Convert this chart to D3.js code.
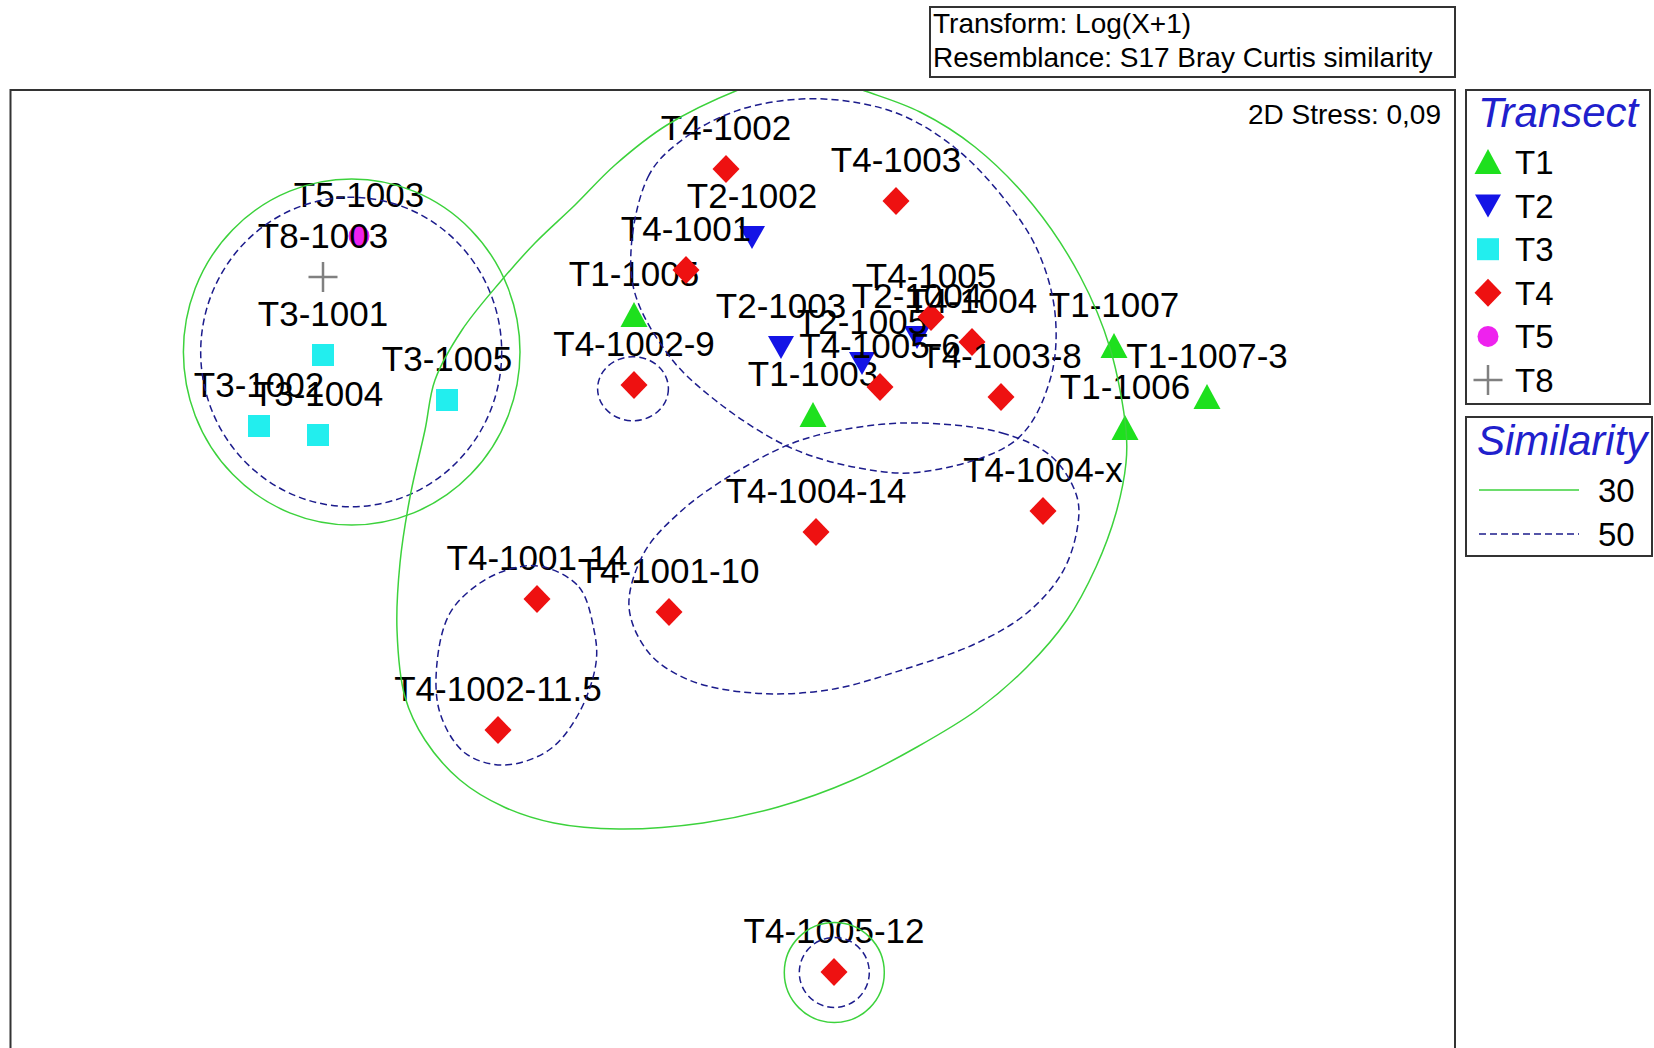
<!DOCTYPE html>
<html>
<head>
<meta charset="utf-8">
<script src="https://cdnjs.cloudflare.com/ajax/libs/d3/7.8.5/d3.min.js"></script>
<style>
  body { margin: 0; background: #fff; }
  text { font-family: "Liberation Sans", Arial, sans-serif; }
</style>
</head>
<body>
<div id="chart"></div>
<script>
// nMDS ordination, sample scores (arbitrary MDS units, y up)
var sampleNames = ["T1-1005", "T1-1003", "T1-1007", "T1-1007-3", "T1-1006",
  "T2-1002", "T2-1003", "T2-1004", "T2-1005",
  "T3-1001", "T3-1002", "T3-1004", "T3-1005",
  "T4-1002", "T4-1003", "T4-1001", "T4-1005", "T4-1004", "T4-1005-6", "T4-1003-8",
  "T4-1002-9", "T4-1004-14", "T4-1004-x", "T4-1001-14", "T4-1001-10", "T4-1002-11.5", "T4-1005-12",
  "T5-1003", "T8-1003"];
var sampleGroups = ["T1", "T1", "T1", "T1", "T1",
  "T2", "T2", "T2", "T2",
  "T3", "T3", "T3", "T3",
  "T4", "T4", "T4", "T4", "T4", "T4", "T4", "T4", "T4", "T4", "T4", "T4", "T4", "T4",
  "T5", "T8"];
var mdsX = [6.24, 8.03, 11.04, 11.97, 11.15,
  7.42, 7.71, 9.07, 8.52,
  3.13, 2.49, 3.08, 4.37,
  7.16, 8.86, 6.76, 9.21, 9.62, 8.70, 9.91, 6.24, 8.06, 10.33, 5.27, 6.59, 4.88, 8.24,
  3.49, 3.13];
var mdsY = [7.35, 6.35, 7.04, 6.53, 6.22,
  8.13, 7.03, 7.13, 6.87,
  6.95, 6.24, 6.15, 6.50,
  8.81, 8.49, 7.80, 7.33, 7.08, 6.63, 6.53, 6.65, 5.18, 5.39, 4.51, 4.38, 3.20, 0.78,
  8.14, 7.73];

// legend
var transects = ["T1", "T2", "T3", "T4", "T5", "T8"];
var simLevels = [30, 50];

// cluster overlays: simple ones as ellipses [cx, cy, rx, ry, level]
var simEllipses = [
  [3.417, 6.98, 1.683, 1.73, 30],
  [3.412, 6.98, 1.505, 1.547, 50],
  [6.23, 6.613, 0.354, 0.32, 50],
  [8.243, 0.775, 0.50, 0.50, 30],
  [8.243, 0.775, 0.35, 0.35, 50]
];
// the rest as closed outlines
var sim30Big = [[7.28, 9.60], [7.90, 9.80], [8.55, 9.59], [9.10, 9.38], [9.65, 9.03], [10.23, 8.45],
  [10.70, 7.74], [11.00, 7.02], [11.16, 6.20], [11.16, 5.87], [11.06, 5.37], [10.86, 4.83],
  [10.57, 4.30], [10.17, 3.83], [9.67, 3.40], [9.07, 3.03], [8.43, 2.70], [7.68, 2.43],
  [6.93, 2.27], [6.09, 2.21], [5.44, 2.27], [4.94, 2.43], [4.50, 2.70], [4.15, 3.10],
  [3.95, 3.53], [3.87, 4.20], [3.90, 4.87], [4.00, 5.53], [4.15, 6.20], [4.25, 6.70],
  [4.52, 7.20], [4.91, 7.69], [5.25, 8.07], [5.65, 8.45], [6.05, 8.85], [6.57, 9.25]];
var sim50Upper = [[6.22, 7.70], [6.38, 8.73], [6.76, 9.13], [7.29, 9.40], [7.91, 9.51], [8.49, 9.47],
  [8.96, 9.33], [9.44, 9.03], [9.87, 8.60], [10.26, 8.03], [10.45, 7.37], [10.40, 6.70],
  [10.06, 6.10], [9.11, 5.78], [8.49, 5.82], [7.79, 6.03], [7.05, 6.50], [6.57, 6.97]];
var sim50Lower = [[9.07, 6.27], [9.92, 6.17], [10.42, 5.93], [10.67, 5.53], [10.67, 5.20],
  [10.52, 4.77], [10.17, 4.37], [9.67, 4.07], [8.92, 3.80], [8.18, 3.60], [7.43, 3.57],
  [6.79, 3.70], [6.39, 3.97], [6.19, 4.43], [6.34, 4.97], [6.69, 5.37], [7.18, 5.73],
  [7.83, 6.07], [8.43, 6.22]];
var sim50Left = [[5.34, 4.83], [5.69, 4.63], [5.84, 4.20], [5.86, 3.87], [5.69, 3.37], [5.39, 3.00],
  [4.94, 2.85], [4.55, 2.97], [4.30, 3.37], [4.27, 3.87], [4.40, 4.37], [4.70, 4.67], [5.04, 4.82]];

var W = 1654, H = 1048;
var plot = {left: 10.5, top: 90, right: 1455, bottom: 1100};

var colors = {T1: "#1ee01e", T2: "#1414e6", T3: "#22eeee", T4: "#ee1111", T5: "#ee22ee", T8: "#808080"};
var simStyle = {
  30: {stroke: "#3cd23c", dash: null},
  50: {stroke: "#1c1c8c", dash: "7,4"}
};

var x = d3.scaleLinear().domain([0, 14.4]).range([10, 1450]);
var y = d3.scaleLinear().domain([0, 9.6]).range([1050, 90]);

var svg = d3.select("#chart").append("svg")
  .attr("width", W)
  .attr("height", H);

svg.append("rect").attr("width", W).attr("height", H).attr("fill", "#fff");

svg.append("clipPath").attr("id", "plotClip")
  .append("rect")
  .attr("x", plot.left).attr("y", plot.top)
  .attr("width", plot.right - plot.left).attr("height", plot.bottom - plot.top);

function symbolPath(g) {
  if (g == "T1") return "M0,-13L13.5,12L-13.5,12Z";
  if (g == "T2") return "M-13,-11L13,-11L0,12Z";
  if (g == "T3") return "M-11,-11h22v22h-22Z";
  if (g == "T4") return "M0,-14L13.5,0L0,14L-13.5,0Z";
  if (g == "T5") return "M-10.5,0A10.5,10.5 0 1,0 10.5,0A10.5,10.5 0 1,0 -10.5,0Z";
  return "M-14.5,0H14.5M0,-15V15";
}

function drawSymbol(sel, g) {
  var p = sel.append("path").attr("d", symbolPath(g));
  if (g == "T8") {
    p.attr("fill", "none").attr("stroke", colors[g]).attr("stroke-width", 2.5);
  } else {
    p.attr("fill", colors[g]);
  }
  return p;
}

// samples: symbol then label, in sample order
var samples = sampleNames.map(function(n, i) {
  return {name: n, group: sampleGroups[i], x: mdsX[i], y: mdsY[i]};
});

var pts = svg.append("g");
samples.forEach(function(d) {
  var g = pts.append("g")
    .attr("transform", "translate(" + x(d.x) + "," + y(d.y) + ")");
  drawSymbol(g, d.group);
  g.append("text")
    .attr("y", -29)
    .attr("text-anchor", "middle")
    .style("font-size", "35px")
    .attr("fill", "#000")
    .text(d.name);
});

// similarity contours on top
var cont = svg.append("g").attr("clip-path", "url(#plotClip)");
simEllipses.forEach(function(e) {
  cont.append("ellipse")
    .attr("cx", x(e[0]))
    .attr("cy", y(e[1]))
    .attr("rx", x(e[0] + e[2]) - x(e[0]))
    .attr("ry", y(e[1]) - y(e[1] + e[3]))
    .attr("fill", "none")
    .attr("stroke", simStyle[e[4]].stroke)
    .attr("stroke-width", 1.5)
    .attr("stroke-dasharray", simStyle[e[4]].dash);
});

var outline = d3.line()
  .x(function(d) { return x(d[0]); })
  .y(function(d) { return y(d[1]); })
  .curve(d3.curveCatmullRomClosed.alpha(0.5));

[[sim30Big, 30], [sim50Upper, 50], [sim50Lower, 50], [sim50Left, 50]].forEach(function(c) {
  cont.append("path")
    .attr("d", outline(c[0]))
    .attr("fill", "none")
    .attr("stroke", simStyle[c[1]].stroke)
    .attr("stroke-width", 1.5)
    .attr("stroke-dasharray", simStyle[c[1]].dash);
});

// plot frame
svg.append("rect")
  .attr("x", plot.left).attr("y", plot.top)
  .attr("width", plot.right - plot.left).attr("height", plot.bottom - plot.top)
  .attr("fill", "none").attr("stroke", "#333").attr("stroke-width", 2);

svg.append("text")
  .attr("x", 1441).attr("y", 124)
  .attr("text-anchor", "end")
  .style("font-size", "28px")
  .text("2D Stress: 0,09");

// transform / resemblance box
svg.append("rect")
  .attr("x", 930).attr("y", 7).attr("width", 525).attr("height", 70)
  .attr("fill", "#fff").attr("stroke", "#333").attr("stroke-width", 2);
svg.append("text").attr("x", 933).attr("y", 33).style("font-size", "28px").text("Transform: Log(X+1)");
svg.append("text").attr("x", 933).attr("y", 67).style("font-size", "28px").text("Resemblance: S17 Bray Curtis similarity");

// legend: Transect
var leg = svg.append("g");
leg.append("rect")
  .attr("x", 1466).attr("y", 90).attr("width", 184).attr("height", 314)
  .attr("fill", "#fff").attr("stroke", "#333").attr("stroke-width", 2);
leg.append("text")
  .attr("x", 1478).attr("y", 127)
  .style("font-size", "42px").style("font-style", "italic")
  .attr("fill", "#2020cc")
  .text("Transect");
transects.forEach(function(t, i) {
  var cy = 162 + i * 43.6;
  var g = leg.append("g").attr("transform", "translate(1488," + cy + ")");
  drawSymbol(g, t);
  leg.append("text")
    .attr("x", 1515).attr("y", cy + 12)
    .style("font-size", "33px")
    .text(t);
});

// legend: Similarity
var leg2 = svg.append("g");
leg2.append("rect")
  .attr("x", 1466).attr("y", 417).attr("width", 186).attr("height", 139)
  .attr("fill", "#fff").attr("stroke", "#333").attr("stroke-width", 2);
leg2.append("text")
  .attr("x", 1477).attr("y", 455)
  .style("font-size", "42px").style("font-style", "italic")
  .attr("fill", "#2020cc")
  .text("Similarity");
simLevels.forEach(function(s, i) {
  var cy = 490 + i * 44;
  leg2.append("line")
    .attr("x1", 1479).attr("x2", 1579).attr("y1", cy).attr("y2", cy)
    .attr("stroke", simStyle[s].stroke)
    .attr("stroke-width", 1.5)
    .attr("stroke-dasharray", simStyle[s].dash);
  leg2.append("text")
    .attr("x", 1598).attr("y", cy + 12)
    .style("font-size", "33px")
    .text(s);
});
</script>
</body>
</html>
